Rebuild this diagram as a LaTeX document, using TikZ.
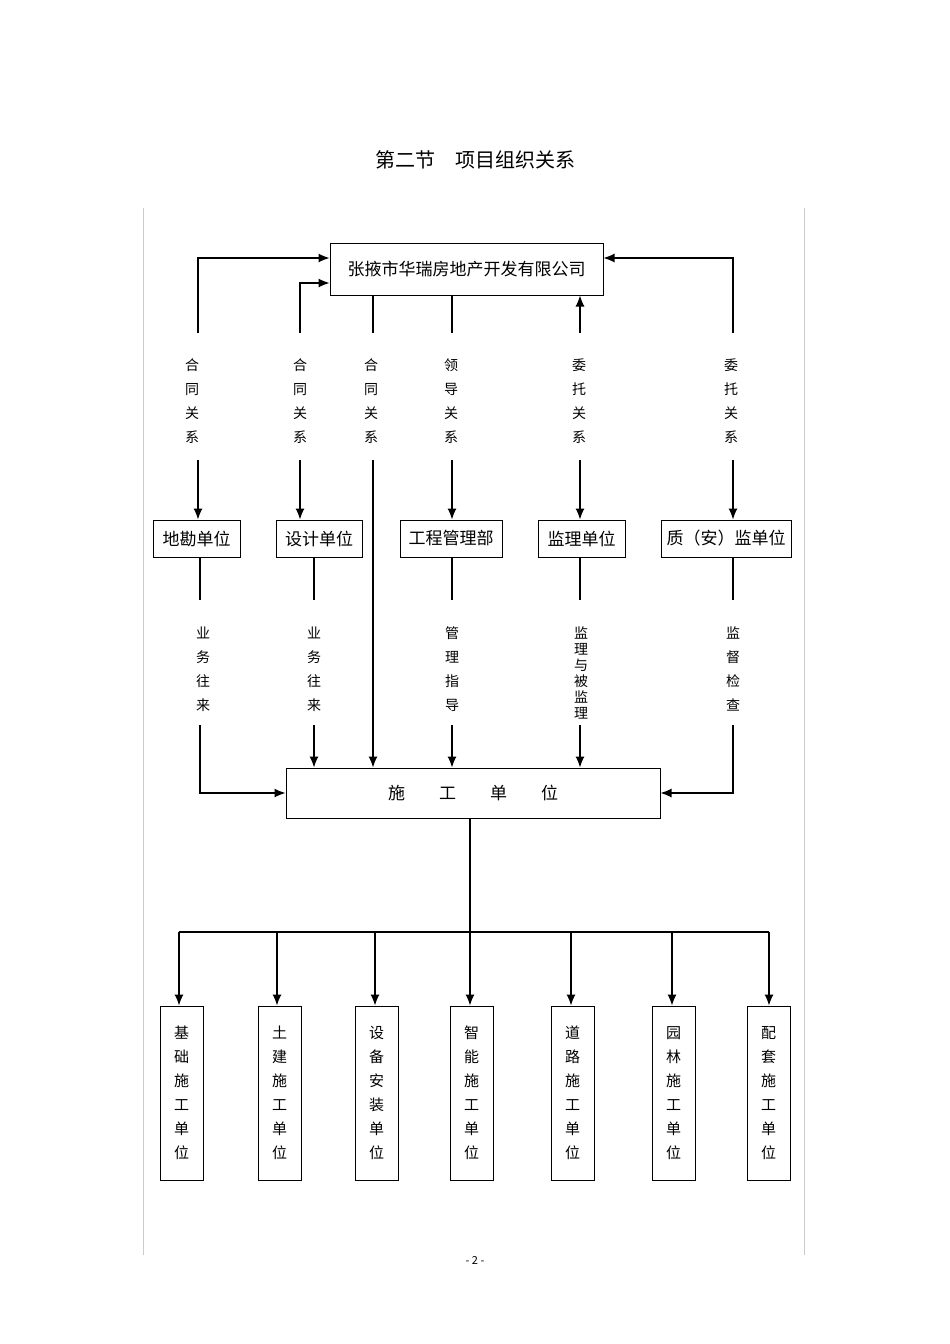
\documentclass[tikz,border=0pt]{standalone}
\usepackage{fontspec}
\setmainfont{Noto Sans CJK SC}
\usetikzlibrary{arrows.meta}
\begin{document}
\begin{tikzpicture}[x=1pt,y=-1pt,
  box/.style={draw,line width=1pt,inner sep=0pt,font=\fontsize{17}{17}\selectfont},
  lbl/.style={inner sep=0pt,align=center,font=\fontsize{14}{24}\selectfont},
  ln/.style={line width=1.2pt},
  arr/.style={line width=1.2pt,-{Latex[length=11pt,width=9pt]}},
  vbox/.style={draw,line width=1pt,minimum width=43pt,minimum height=174pt,inner sep=0pt,align=center,font=\fontsize{15}{24}\selectfont}]
\useasboundingbox (0,0) rectangle (950,1344);
\node[inner sep=0pt,font=\fontsize{20}{20}\selectfont] (title) at (475,160) {第二节\quad 项目组织关系};
\draw[gray!40,line width=0.5pt] (143,208) -- (143,1255) (804,208) -- (804,1255);
% top box
\node[box,minimum width=273pt,minimum height=52pt] (co) at (466.5,269) {张掖市华瑞房地产开发有限公司};
% second row
\node[box,minimum width=87pt,minimum height=37pt] (dk) at (196.5,538.5) {地勘单位};
\node[box,minimum width=86pt,minimum height=37pt] (sj) at (319,538.5) {设计单位};
\node[box,minimum width=102pt,minimum height=37pt] (gc) at (451,538.5) {工程管理部};
\node[box,minimum width=87pt,minimum height=37pt] (jl) at (581.5,538.5) {监理单位};
\node[box,minimum width=130pt,minimum height=37pt] (zj) at (726,538.5) {质（安）监单位};
\node[box,minimum width=374pt,minimum height=50pt] (sg) at (473,793) {施\qquad 工\qquad 单\qquad 位};
% labels row 1
\node[lbl] (l1) at (192,401) {合\\同\\关\\系};
\node[lbl] (l2) at (300,401) {合\\同\\关\\系};
\node[lbl] (l3) at (371,401) {合\\同\\关\\系};
\node[lbl] (l4) at (451,401) {领\\导\\关\\系};
\node[lbl] (l5) at (579,401) {委\\托\\关\\系};
\node[lbl] (l6) at (731,401) {委\\托\\关\\系};
% labels row 2
\node[lbl] (m1) at (203,669) {业\\务\\往\\来};
\node[lbl] (m2) at (314,669) {业\\务\\往\\来};
\node[lbl] (m3) at (452,669) {管\\理\\指\\导};
\node[lbl,font=\fontsize{14}{16}\selectfont] (m4) at (581,673) {监\\理\\与\\被\\监\\理};
\node[lbl] (m5) at (733,669) {监\\督\\检\\查};
% coordinates
\coordinate (a1) at (198,333); \coordinate (a1t) at (198,258); \coordinate (a1b) at (198,460);
\coordinate (a2) at (300,333); \coordinate (a2t) at (300,283); \coordinate (a2b) at (300,460);
\coordinate (a3t) at (373,295); \coordinate (a3) at (373,333); \coordinate (a3b) at (373,460);
\coordinate (a4t) at (452,295); \coordinate (a4) at (452,333); \coordinate (a4b) at (452,460);
\coordinate (a5) at (580,333); \coordinate (a5b) at (580,460);
\coordinate (a6) at (733,333); \coordinate (a6t) at (733,258); \coordinate (a6b) at (733,460);
\draw[arr] (a1) -- (a1t) -- (co.west |- a1t);
\draw[arr] (a2) -- (a2t) -- (co.west |- a2t);
\draw[ln] (a3t) -- (a3);
\draw[ln] (a4t) -- (a4);
\draw[arr] (a5) -- (co.south -| a5);
\draw[arr] (a6) -- (a6t) -- (co.east |- a6t);
\draw[arr] (a1b) -- (dk.north -| a1b);
\draw[arr] (a2b) -- (sj.north -| a2b);
\draw[arr] (a3b) -- (sg.north -| a3b);
\draw[arr] (a4b) -- (gc.north -| a4b);
\draw[arr] (a5b) -- (jl.north -| a5b);
\draw[arr] (a6b) -- (zj.north -| a6b);
% row 2 connectors
\coordinate (b1) at (200,600); \coordinate (b1b) at (200,725); \coordinate (b1c) at (200,793);
\coordinate (b2) at (314,600); \coordinate (b2b) at (314,725);
\coordinate (b3) at (452,600); \coordinate (b3b) at (452,725);
\coordinate (b4) at (580,600); \coordinate (b4b) at (580,725);
\coordinate (b5) at (733,600); \coordinate (b5b) at (733,725); \coordinate (b5c) at (733,793);
\draw[ln] (dk.south -| b1) -- (b1);
\draw[ln] (sj.south -| b2) -- (b2);
\draw[ln] (gc.south -| b3) -- (b3);
\draw[ln] (jl.south -| b4) -- (b4);
\draw[ln] (zj.south -| b5) -- (b5);
\draw[arr] (b1b) -- (b1c) -- (sg.west);
\draw[arr] (b2b) -- (sg.north -| b2b);
\draw[arr] (b3b) -- (sg.north -| b3b);
\draw[arr] (b4b) -- (sg.north -| b4b);
\draw[arr] (b5b) -- (b5c) -- (sg.east);
% bottom
\node[vbox] (u1) at (181.5,1093) {基\\础\\施\\工\\单\\位};
\node[vbox] (u2) at (279.5,1093) {土\\建\\施\\工\\单\\位};
\node[vbox] (u3) at (376.5,1093) {设\\备\\安\\装\\单\\位};
\node[vbox] (u4) at (471.5,1093) {智\\能\\施\\工\\单\\位};
\node[vbox] (u5) at (572.5,1093) {道\\路\\施\\工\\单\\位};
\node[vbox] (u6) at (673.5,1093) {园\\林\\施\\工\\单\\位};
\node[vbox] (u7) at (768.5,1093) {配\\套\\施\\工\\单\\位};
\coordinate (h) at (470,932);
\draw[ln] (sg.south -| h) -- (h);
\coordinate (hl) at (179,932); \coordinate (hr) at (769,932);
\draw[ln] (hl) -- (hr);
\foreach \x/\u in {179/u1,277/u2,375/u3,470/u4,571/u5,672/u6,769/u7}
  \draw[arr] (\x,932) -- (\u.north -| \x,0);
\node[inner sep=0pt,font=\fontsize{11}{11}\selectfont] (pg) at (475,1260) {- 2 -};
\end{tikzpicture}
\end{document}
